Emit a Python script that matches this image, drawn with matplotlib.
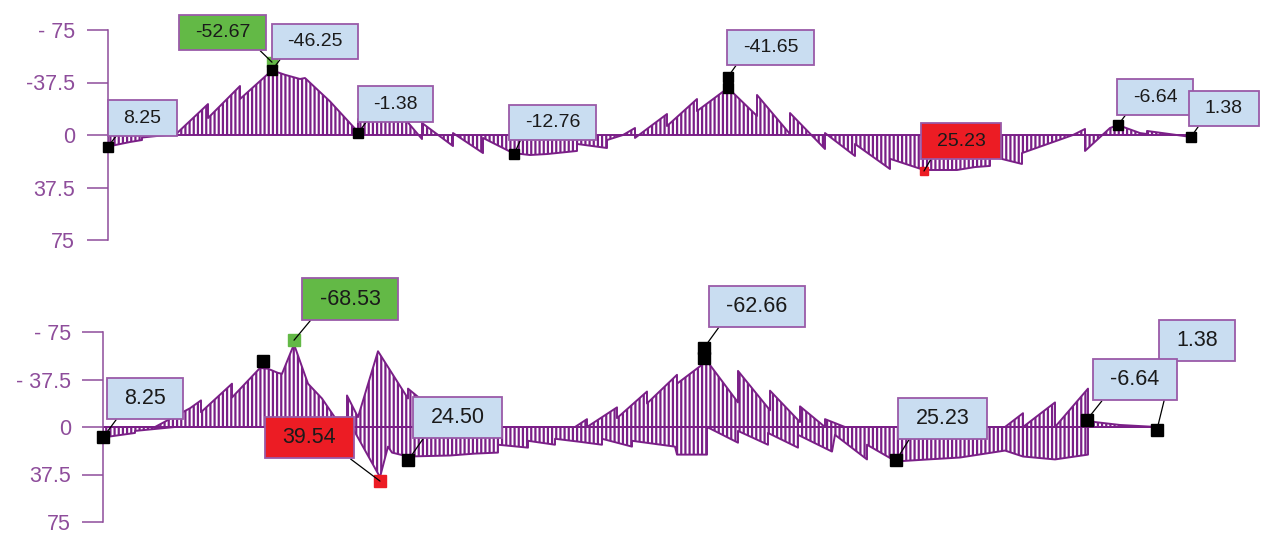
import matplotlib
matplotlib.use("Agg")
import matplotlib.pyplot as plt
from matplotlib.path import Path

plt.rcParams['font.family'] = ['Liberation Sans', 'DejaVu Sans']
plt.rcParams['hatch.linewidth'] = 1.6

PURPLE = '#7A1F87'
AXIS_PURPLE = '#8E4D9B'
BOX_EDGE = '#9A5AA8'
BLUE = '#C9DDF1'
GREEN = '#63B946'
RED = '#EC1C24'

# --- top diagram: single moment line along the beam ---
top_x = [0, 2.2, 3.4, 3.4, 5.9, 6.7, 10.0, 10.0, 13.2, 13.2, 16.4, 17.7, 19.2, 19.7,
         22.2, 24.9, 25.0, 25.0, 29.7, 31.4, 31.4, 34.5, 34.5, 37.5, 37.5, 40.5,
         42.2, 43.9, 46.9, 46.9, 49.9, 49.9, 51.5, 52.7, 52.7, 55.9, 55.9, 58.9,
         58.9, 62.0, 64.9, 64.9, 68.2, 68.2, 71.7, 71.7, 74.7, 74.7, 78.2, 78.2,
         81.6, 84.9, 86.7, 88.2, 88.2, 91.4, 91.4, 96.5, 97.7, 97.7, 100.2, 101.0,
         103.2, 103.9, 103.9, 108.3]
top_m = [8.25, 5.0, 3.6, 1.8, 0, 0, -22.1, -12.1, -35.0, -25.7, -46.2, -43.0, -40.0, -40.7,
         -24.0, -3.0, -1.4, -11.4, -11.4, 2.9, -8.6, 7.9, -1.4, 12.9, 2.1, 12.9,
         14.3, 13.6, 11.4, 6.4, 9.3, 3.6, 0, -5.0, 2.1, -15.0, -6.4, -25.7,
         -17.1, -33.6, -13.6, -28.6, -0.7, -15.7, 10.0, -1.4, 15.0, 6.4, 24.3, 17.0,
         25.0, 25.0, 22.9, 22.1, 15.0, 20.7, 12.9, 0, -4.3, 11.4, -5.0, -7.1,
         -1.4, -0.7, -2.9, 1.4]

top_pts_x = [0, 16.4, 25.0, 40.6, 62.0, 62.0, 101.0, 108.3]
top_pts_y = [8.25, -46.25, -1.38, 13.6, -33.6, -41.6, -7.1, 1.4]
top_min = (16.4, -52.0)
top_max = (81.6, 25.7)

top_labels = ["8.25", "-52.67", "-46.25", "-1.38", "-12.76", "-41.65", "25.23", "-6.64", "1.38"]
top_label_x = [3.45, 11.45, 20.7, 28.75, 44.45, 66.25, 85.3, 104.7, 111.6]
top_label_y = [-12.1, -73.2, -66.8, -22.1, -8.9, -62.5, 4.3, -27.1, -18.9]
top_target_x = [0, 16.4, 16.4, 25.0, 40.6, 62.0, 81.6, 101.0, 108.3]
top_target_y = [8.25, -52.0, -46.25, -1.38, 13.6, -41.6, 25.7, -7.1, 1.4]
top_colors = [BLUE, GREEN, BLUE, BLUE, BLUE, BLUE, RED, BLUE, BLUE]
top_corner = [(0, 0), (1, 0), (0, 0), (0, 0), (0, 0), (0, 0), (0, 0), (0, 0), (0, 0)]

# --- bottom diagram: envelope (negative side and positive side) ---
env_neg_x = [0, 5.2, 8.7, 9.8, 9.8, 12.9, 12.9, 15.7, 16.5, 17.5, 17.9, 19.1, 20.5, 21.9,
             23.7, 24.4, 24.4, 25.5, 27.5, 30.5, 30.5, 31.7, 35.7, 47.2, 48.4, 48.4,
             51.4, 51.4, 54.4, 54.4, 57.4, 57.4, 60.4, 63.5, 63.5, 66.7, 66.7, 69.7,
             69.7, 72.2, 72.2, 74.2, 90.2, 92.0, 92.0, 95.2, 95.2, 98.5, 98.5, 99.2,
             101.7, 105.4]
env_neg_m = [0, 0, -14.8, -21.0, -11.7, -34.2, -23.3, -46.6, -46.0, -42.7, -42.0, -65.3, -34.2, -22.5,
             -1.6, 0, -24.9, -7.8, -59.8, -22.5, -30.3, -22.5, 0, 0, -6.2, 0,
             -15.5, -7.0, -28.0, -18.6, -41.2, -34.2, -52.1, -19.4, -44.3, -13.2, -28.7, -3.9,
             -16.3, 0, -6.2, 0, 0, -10.9, 0, -19.4, 0, -30.3, -5.4, -3.9,
             -1.6, 0]
env_pos_x = [0, 3.2, 3.2, 7.2, 24.9, 27.7, 28.5, 28.9, 30.5, 34.7, 37.2, 39.5, 39.5, 42.5,
             42.5, 45.2, 45.2, 47.7, 49.9, 49.9, 52.9, 52.9, 57.2, 57.4, 60.4, 60.4,
             63.5, 63.5, 66.5, 66.5, 69.5, 69.5, 72.9, 73.2, 76.4, 76.4, 79.3, 82.5,
             85.7, 88.9, 90.2, 92.0, 95.2, 98.5, 98.5, 105.4]
env_pos_m = [8.25, 4.7, 3.1, 0, 0, 39.6, 15.5, 20.2, 23.3, 22.5, 21.0, 20.2, 14.0, 16.3,
             10.9, 14.0, 9.3, 11.7, 14.0, 9.3, 15.5, 10.9, 15.5, 21.8, 21.8, 0,
             12.4, 3.1, 14.0, 4.7, 16.3, 6.2, 19.4, 6.2, 25.6, 14.0, 27.2, 25.6,
             24.1, 20.2, 18.6, 23.3, 25.6, 21.8, 0, 0]

bot_pts_x = [0, 16.0, 30.5, 60.1, 60.1, 79.3, 98.4, 105.4]
bot_pts_y = [8.25, -52.5, 26.4, -62.5, -54.5, 26.4, -5.8, 2.0]
bot_min = (19.1, -68.5)
bot_max = (27.7, 42.7)

bot_labels = ["8.25", "-68.53", "39.54", "24.50", "-62.66", "25.23", "1.38", "-6.64"]
bot_label_x = [4.2, 24.7, 20.65, 35.45, 65.4, 83.95, 109.4, 103.2]
bot_label_y = [-22.5, -101.0, 8.5, -7.4, -95.2, -6.6, -68.0, -37.3]
bot_target_x = [0, 19.1, 27.7, 30.5, 60.1, 79.3, 105.4, 98.4]
bot_target_y = [8.25, -68.5, 42.7, 26.4, -62.5, 26.4, 2.0, -5.8]
bot_colors = [BLUE, GREEN, RED, BLUE, BLUE, BLUE, BLUE, BLUE]
bot_corner = [(0, 0), (0, 0), (1, 0), (0, 0), (0, 0), (0, 0), (0, 0), (0, 0)]

y_ticks = [-75, -37.5, 0, 37.5, 75]
top_tick_labels = ["- 75", "-37.5", "0", "37.5", "75"]
bot_tick_labels = ["- 75", "- 37.5", "0", "37.5", "75"]


def label_box(x0, y0, width, height, mutation_size):
    """Plain rectangle, wider padding left/right than top/bottom."""
    px, py = 0.8 * mutation_size, 0.47 * mutation_size
    x0, y0 = x0 - px, y0 - py
    x1, y1 = x0 + width + 2 * px, y0 + height + 2 * py
    return Path([(x0, y0), (x1, y0), (x1, y1), (x0, y1), (x0, y0)], closed=True)


def setup_axis(ax, xmax, tick_labels, fs, pad):
    ax.set_xlim(0, xmax)
    ax.set_ylim(75, -75)
    for side in ['top', 'right', 'bottom']:
        ax.spines[side].set_visible(False)
    ax.spines['left'].set_color(AXIS_PURPLE)
    ax.spines['left'].set_linewidth(1.1)
    ax.set_xticks([])
    ax.set_yticks(y_ticks)
    ax.set_yticklabels(tick_labels)
    ax.tick_params(axis='y', length=15, width=1.1, color=AXIS_PURPLE,
                   labelcolor=AXIS_PURPLE, labelsize=fs, pad=pad)
    ax.patch.set_alpha(0)


def hatched(ax, x, m):
    ax.fill_between(x, m, 0, facecolor='none', edgecolor=PURPLE,
                    hatch='||||', linewidth=1.4, zorder=2)


def add_labels(ax, texts, lx, ly, tx, ty, colors, corners, fs):
    for s, x, y, px, py, c, rp in zip(texts, lx, ly, tx, ty, colors, corners):
        ax.annotate(s, xy=(px, py), xytext=(x, y), textcoords='data',
                    ha='center', va='center', fontsize=fs, color='#1a1a1a',
                    bbox=dict(boxstyle=label_box, fc=c, ec=BOX_EDGE, lw=1.3),
                    arrowprops=dict(arrowstyle='-', color='black', lw=0.9,
                                    relpos=rp, shrinkA=0, shrinkB=0),
                    annotation_clip=False, zorder=4)


fig = plt.figure(figsize=(12.62, 5.35), dpi=100)

ax1 = fig.add_axes([108 / 1262, 295 / 535, 1154 / 1262, 210 / 535])
setup_axis(ax1, 115.4, top_tick_labels, 15.5, 8.6)
hatched(ax1, top_x, top_m)
ax1.plot(*top_min, 's', color=GREEN, ms=7, zorder=3, clip_on=False)
ax1.plot(top_pts_x, top_pts_y, 's', color='black', ms=7.5, ls='none', zorder=3, clip_on=False)
ax1.plot(*top_max, 's', color=RED, ms=6, zorder=3, clip_on=False)
add_labels(ax1, top_labels, top_label_x, top_label_y, top_target_x, top_target_y,
           top_colors, top_corner, 14)

ax2 = fig.add_axes([103 / 1262, 13 / 535, 1159 / 1262, 190 / 535])
setup_axis(ax2, 115.9, bot_tick_labels, 15.5, 8)
hatched(ax2, env_neg_x, env_neg_m)
hatched(ax2, env_pos_x, env_pos_m)
ax2.plot(bot_pts_x, bot_pts_y, 's', color='black', ms=8.5, ls='none', zorder=3, clip_on=False)
ax2.plot(*bot_min, 's', color=GREEN, ms=9, zorder=3, clip_on=False)
ax2.plot(*bot_max, 's', color=RED, ms=8, zorder=3, clip_on=False)
add_labels(ax2, bot_labels, bot_label_x, bot_label_y, bot_target_x, bot_target_y,
           bot_colors, bot_corner, 15.5)

fig.savefig('out.png', dpi=100)
